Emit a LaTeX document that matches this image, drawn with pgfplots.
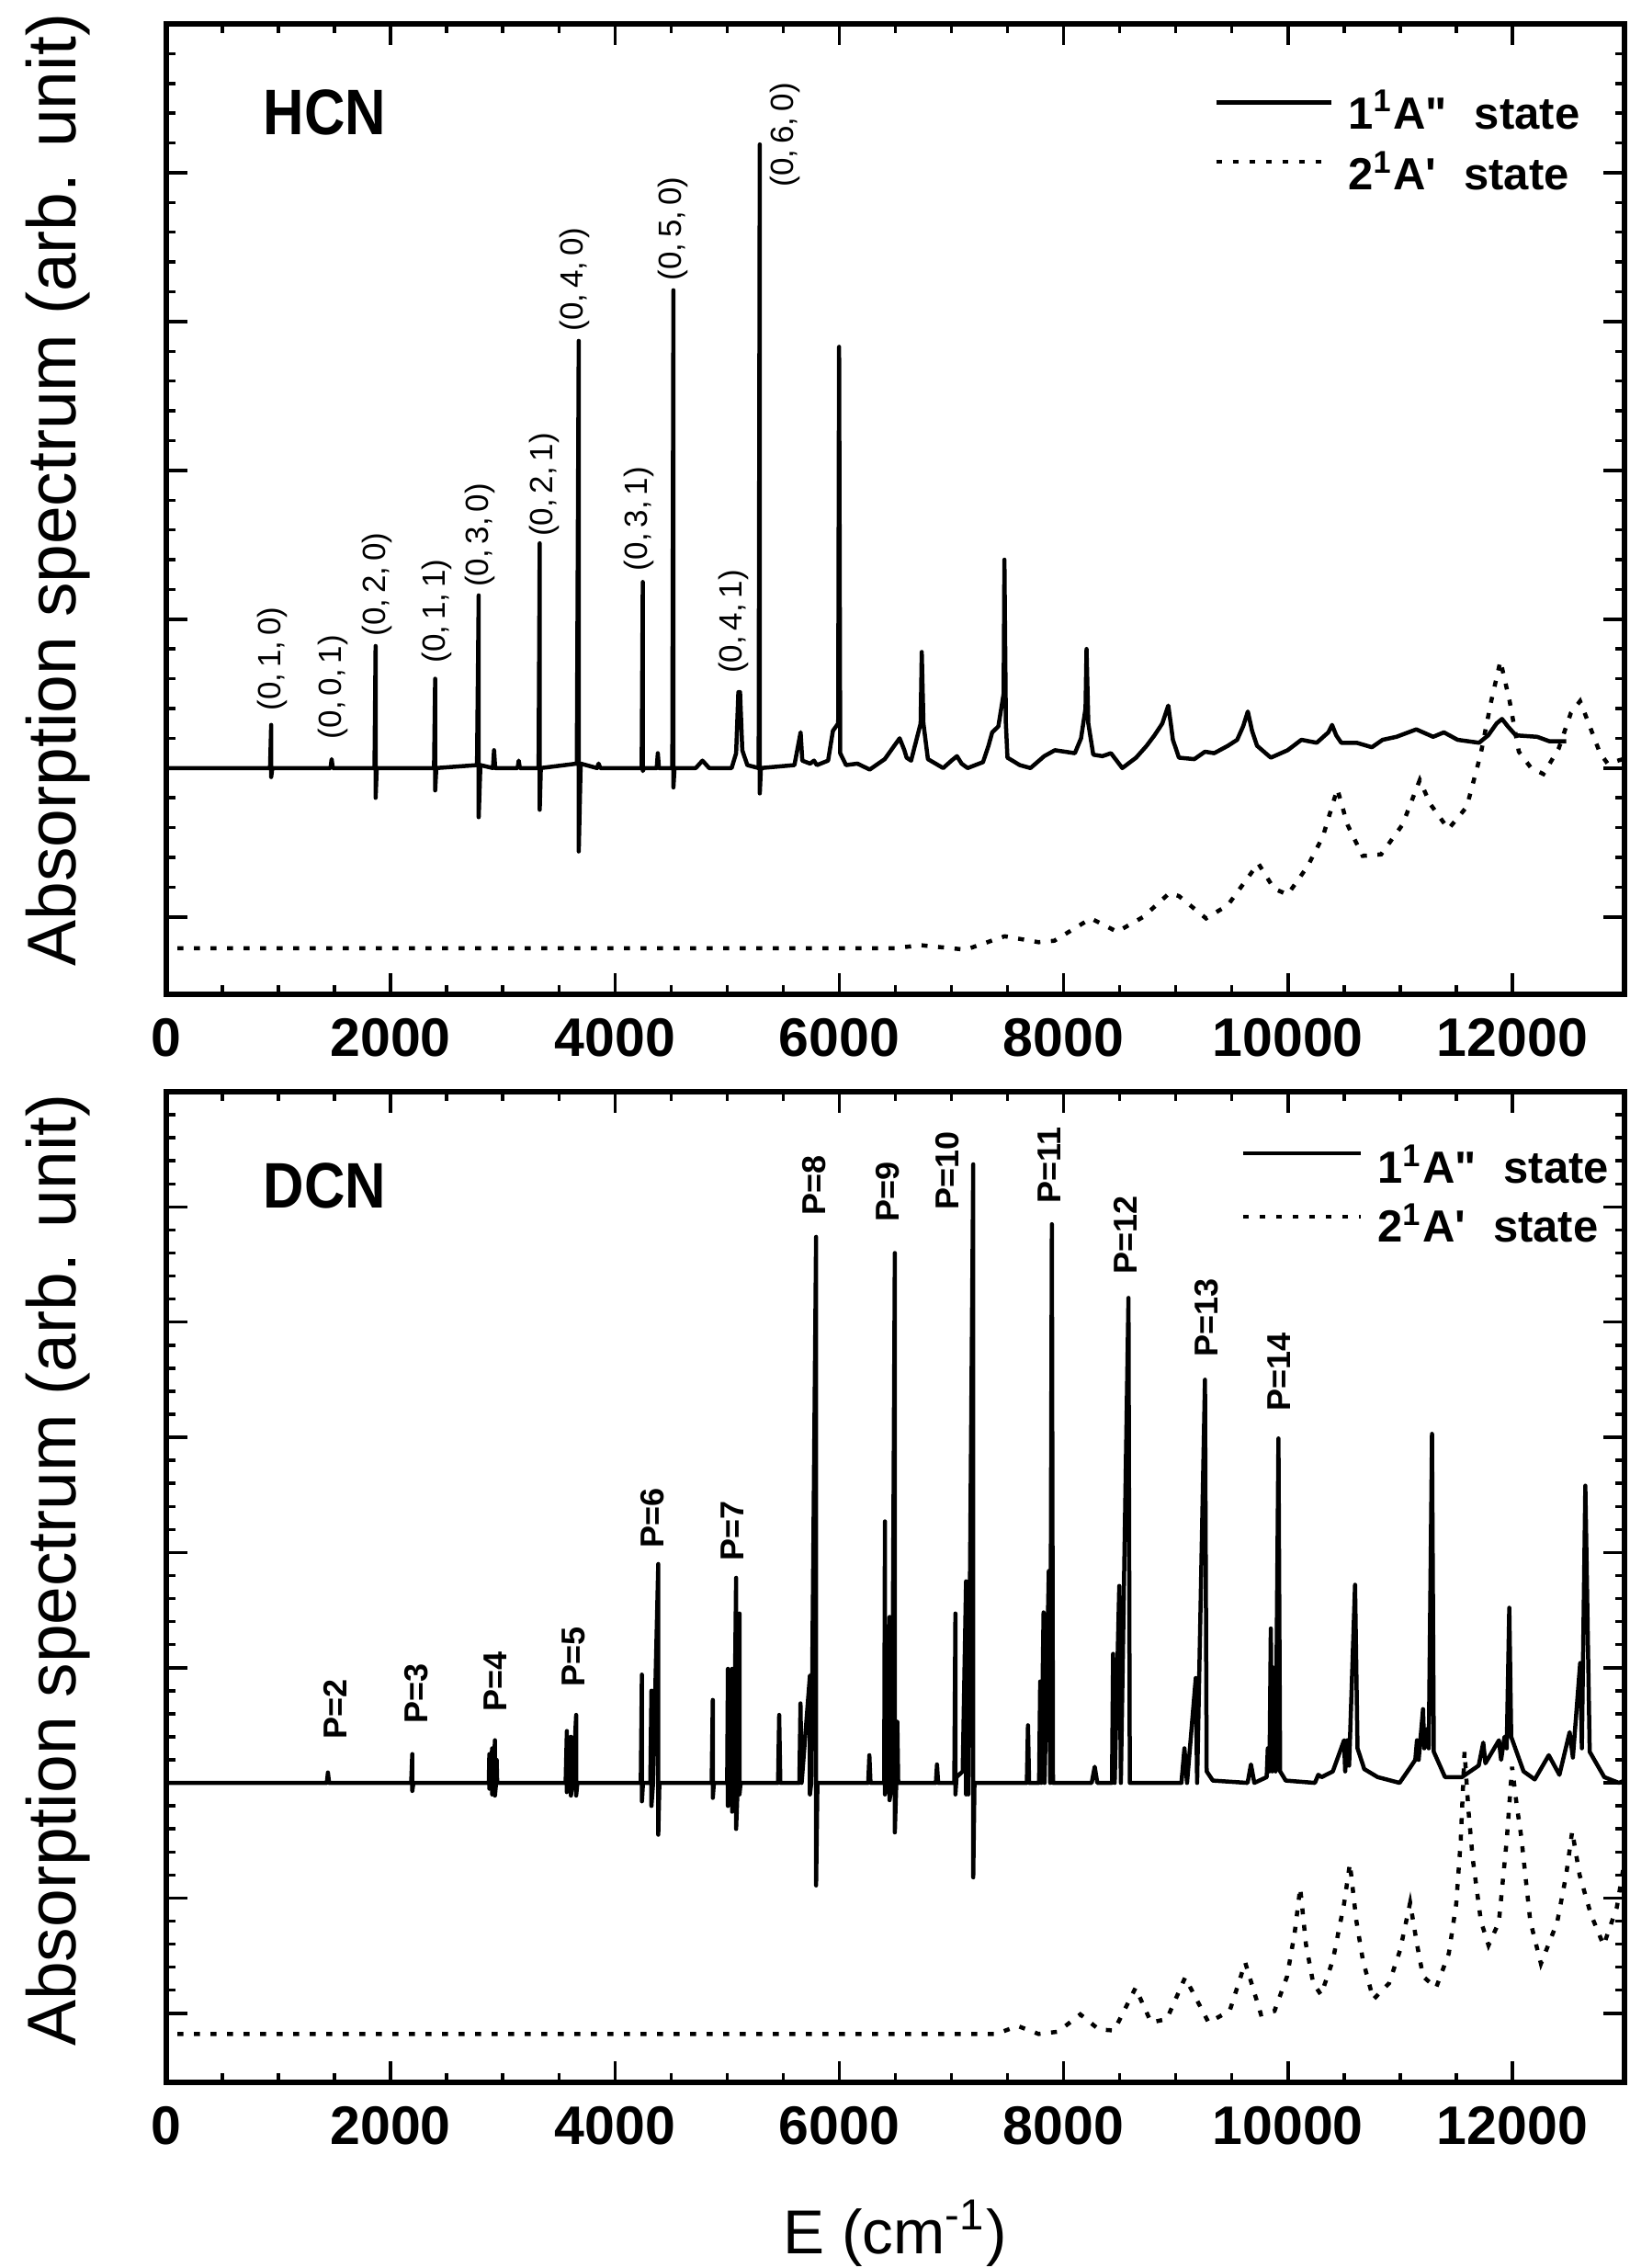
\documentclass[border=0pt]{standalone}
\usepackage{fontspec}
\setmainfont{Liberation Sans}
\usepackage{graphicx}
\usepackage{pgfplots}
\pgfplotsset{compat=1.18}

\pgfplotsset{
  specaxis/.style={
    scale only axis, width=317.4pt,
    xmin=0, xmax=13000,
    xtick={0,2000,...,12000}, minor x tick num=3,
    scaled x ticks=false,
    yticklabels={}, minor y tick num=4,
    tick align=inside,
    major tick length=4.6pt, minor tick length=2pt,
    axis line style={line width=1.3pt},
    tick style={black, line width=0.7pt},
    /pgf/number format/assume math mode=true,
    /pgf/number format/1000 sep={},
    xticklabel style={font=\bfseries\fontsize{11.8}{13}\selectfont, yshift=-1.8pt},
    clip mode=individual,
  },
}
\tikzset{
  solidspec/.style={black, line width=0.9pt, line join=round},
  dotspec/.style={black, line width=0.9pt, dash pattern=on 1.3pt off 2.3pt},
  plab/.style={rotate=90, anchor=west, inner sep=0pt, font=\fontsize{7}{8}\selectfont},
  pblab/.style={rotate=90, anchor=west, inner sep=0pt, font=\bfseries\fontsize{7.2}{8}\selectfont},
  mollab/.style={anchor=base west, inner sep=0pt, font=\bfseries\fontsize{14}{16}\selectfont},
  leglab/.style={anchor=base west, inner sep=0pt, font=\bfseries\fontsize{9.8}{12}\selectfont},
}

\begin{document}
\begin{tikzpicture}
\useasboundingbox (0,0) rectangle (354.6pt,493.6pt);

% ---------------- HCN ----------------
\begin{axis}[specaxis, at={(36.2pt,277.2pt)}, anchor=south west,
  height=211.2pt, ymin=-1.52, ymax=5.0, ytick={-1,0,...,5}]
\addplot[solidspec] coordinates {
(0,0) (925,0) (935,0.29) (935,-0.06) (945,0)
(1464,0) (1474,0.06) (1484,0)
(1856,0) (1866,0.82) (1866,-0.20) (1876,0)
(2387,0) (2397,0.60) (2397,-0.15) (2407,0)
(2770,0.02) (2785,1.16) (2785,-0.33) (2800,0.02)
(2912,0) (2922,0.12) (2932,0)
(3132,0) (3142,0.05) (3152,0)
(3319,0) (3329,1.51) (3329,-0.28) (3339,0)
(3660,0.03) (3677,2.87) (3677,-0.56) (3694,0.03)
(3840,0) (3854,0.03) (3870,0)
(4238,0) (4248,1.25) (4248,-0.02) (4258,0)
(4372,0) (4382,0.10) (4392,0)
(4511,0) (4521,3.21) (4521,-0.13) (4531,0)
(4720,0) (4780,0.05) (4840,0)
(5040,0) (5080,0.10) (5100,0.51) (5115,0.51) (5135,0.12) (5180,0.02)
(5281,0) (5291,4.19) (5291,-0.17) (5301,0)
(5600,0.02) (5655,0.24) (5670,0.05) (5740,0.03) (5774,0.05) (5800,0.02)
(5900,0.05) (5943,0.25) (5990,0.30) (5998,2.83) (6008,0.10) (6060,0.02)
(6161,0.03) (6271,-0.01) (6405,0.06) (6490,0.15) (6538,0.20) (6580,0.12) (6600,0.07) (6640,0.05)
(6725,0.30) (6735,0.78) (6750,0.30) (6790,0.06) (6926,0) (7000,0.05) (7049,0.08) (7090,0.03) (7144,0)
(7281,0.04) (7330,0.15) (7363,0.24) (7418,0.28) (7465,0.50) (7472,1.40) (7485,0.30) (7499,0.07)
(7609,0.02) (7704,0) (7827,0.08) (7922,0.12) (8100,0.10) (8155,0.20) (8195,0.40)
(8204,0.80) (8220,0.30) (8264,0.09) (8346,0.08) (8422,0.10) (8523,0) (8646,0.07)
(8740,0.15) (8810,0.22) (8880,0.30) (8933,0.42) (8955,0.30) (8974,0.19) (9028,0.07) (9165,0.06) (9260,0.11) (9342,0.10)
(9465,0.15) (9547,0.19) (9600,0.28) (9642,0.38) (9680,0.25) (9724,0.15) (9847,0.07) (9997,0.12) (10120,0.19)
(10256,0.17) (10360,0.24) (10393,0.29) (10430,0.22) (10475,0.17) (10612,0.17) (10748,0.14) (10844,0.19)
(10967,0.21) (11144,0.26) (11294,0.21) (11390,0.24) (11512,0.19) (11703,0.17)
(11785,0.22) (11860,0.30) (11908,0.33) (11960,0.28) (12031,0.22) (12222,0.21) (12331,0.18) (12480,0.18)
};
\addplot[dotspec] coordinates {
(100,-1.21) (6500,-1.21) (6724,-1.19) (7126,-1.22) (7474,-1.13) (7777,-1.17)
(7917,-1.16) (8243,-1.01) (8477,-1.10) (8710,-1.00) (8943,-0.84) (9028,-0.86)
(9270,-1.01) (9465,-0.92) (9735,-0.64) (9875,-0.81) (9997,-0.85) (10175,-0.66)
(10311,-0.46) (10440,-0.14) (10530,-0.38) (10666,-0.59) (10830,-0.58) (11021,-0.38)
(11175,-0.08) (11267,-0.24) (11430,-0.41) (11594,-0.26) (11717,0.09) (11812,0.45)
(11894,0.72) (11976,0.45) (12058,0.11) (12168,0.0) (12277,-0.04) (12413,0.13)
(12522,0.37) (12604,0.45) (12686,0.29) (12782,0.10) (12850,0.03) (12987,0.06)
};
\node[plab] at (axis cs:948,0.38) {(0,\,1,\,0)};
\node[plab] at (axis cs:1490,0.19) {(0,\,0,\,1)};
\node[plab] at (axis cs:1876,0.88) {(0,\,2,\,0)};
\node[plab] at (axis cs:2414,0.70) {(0,\,1,\,1)};
\node[plab] at (axis cs:2797,1.21) {(0,\,3,\,0)};
\node[plab] at (axis cs:3370,1.55) {(0,\,2,\,1)};
\node[plab] at (axis cs:3643,2.93) {(0,\,4,\,0)};
\node[plab] at (axis cs:4216,1.32) {(0,\,3,\,1)};
\node[plab] at (axis cs:4521,3.27) {(0,\,5,\,0)};
\node[plab] at (axis cs:5061,0.63) {(0,\,4,\,1)};
\node[plab] at (axis cs:5520,3.90) {(0,\,6,\,0)};
\node[mollab] at (axis description cs:0.066,0.886) {\scalebox{0.88}[1]{HCN}};
\draw[solidspec] (axis description cs:0.720,0.919) -- (axis description cs:0.799,0.919);
\draw[dotspec] (axis description cs:0.720,0.858) -- (axis description cs:0.799,0.858);
\node[leglab] at (axis description cs:0.810,0.892) {1\textsuperscript{1}A\textquotedbl\hspace{6pt}state};
\node[leglab] at (axis description cs:0.810,0.829) {2\textsuperscript{1}A\textquotesingle\hspace{6pt}state};
\end{axis}

% ---------------- DCN ----------------
\begin{axis}[specaxis, at={(36.2pt,40.4pt)}, anchor=south west,
  height=215.6pt, ymin=-2.6, ymax=6.0, ytick={-2,-1,...,6}]
\addplot[solidspec] coordinates {
(0,0) (1431,0) (1441,0.09) (1451,0)
(2183,0) (2193,0.25) (2193,-0.07) (2203,0)
(2875,0) (2880,0.25) (2880,-0.05) (2890,0) (2905,0.30) (2905,-0.10) (2915,0)
(2930,0.37) (2930,-0.11) (2940,0) (2945,0.20) (2950,0)
(3560,0) (3571,0.45) (3571,-0.08) (3585,0) (3607,0.40) (3607,-0.11) (3625,0)
(3654,0.59) (3654,-0.11) (3665,0)
(4230,0) (4240,0.94) (4240,-0.16) (4250,0) (4315,0) (4325,0.80) (4325,-0.20)
(4340,0) (4386,1.90) (4386,-0.45) (4396,0)
(4862,0) (4872,0.72) (4872,-0.13) (4882,0) (5000,0) (5007,0.99) (5007,-0.20)
(5025,0) (5044,0.99) (5044,-0.25) (5060,0) (5080,1.78) (5080,-0.40) (5095,0)
(5110,1.47) (5110,-0.10) (5120,0)
(5454,0) (5464,0.59) (5474,0)
(5644,0) (5654,0.69) (5664,0) (5738,0.93) (5738,-0.10) (5750,0) (5793,4.74)
(5793,-0.89) (5805,0)
(6258,0) (6268,0.24) (6278,0)
(6400,0) (6407,2.27) (6407,-0.10) (6420,0) (6448,1.44) (6448,-0.15) (6470,0)
(6495,4.60) (6495,-0.43) (6508,0) (6517,0.53) (6525,0)
(6861,0) (6871,0.16) (6881,0)
(7025,0) (7035,1.47) (7035,-0.10) (7045,0.05) (7100,0.10) (7130,1.75) (7130,-0.10)
(7150,1.28) (7150,-0.10) (7194,5.37) (7194,-0.82) (7205,0)
(7672,0) (7682,0.50) (7692,0)
(7781,0) (7791,0.88) (7800,0) (7821,1.48) (7830,0) (7868,1.84) (7880,0)
(7895,4.85) (7905,0)
(8250,0) (8277,0.14) (8300,0)
(8431,0) (8441,1.12) (8455,0) (8496,1.71) (8510,0) (8578,4.21) (8590,0)
(9050,0) (9077,0.30) (9100,0) (9178,0.91) (9190,0) (9260,3.50) (9275,0.10) (9330,0.02)
(9640,0) (9670,0.16) (9700,0)
(9810,0.05) (9820,0.30) (9835,0.10) (9847,1.34) (9860,0.10) (9874,1.00) (9890,0.10)
(9915,2.99) (9930,0.10) (9980,0.02)
(10240,0) (10270,0.07) (10300,0.05) (10400,0.10) (10500,0.37) (10510,0.10)
(10528,0.37) (10545,0.15) (10598,1.72) (10620,0.30) (10680,0.12) (10800,0.05)
(10995,0) (11080,0.12) (11135,0.20) (11150,0.37) (11165,0.20) (11204,0.64)
(11215,0.30) (11240,0.47) (11255,0.30) (11284,3.03) (11300,0.27) (11400,0.05)
(11550,0.05) (11700,0.15) (11741,0.35) (11760,0.17) (11881,0.37) (11900,0.20)
(11930,0.40) (11950,0.30) (11973,1.52) (11990,0.40) (12100,0.10) (12200,0.03)
(12325,0.24) (12420,0.07) (12511,0.44) (12540,0.22) (12605,1.04) (12620,0.30)
(12651,2.58) (12690,0.27) (12820,0.05) (12950,0.0) (13000,0.02)
};
\addplot[dotspec] coordinates {
(100,-2.18) (7400,-2.18) (7590,-2.11) (7777,-2.18) (7950,-2.16) (8149,-2.01)
(8313,-2.14) (8450,-2.15) (8641,-1.78) (8780,-2.08) (8920,-2.05) (9083,-1.69)
(9292,-2.08) (9480,-1.98) (9619,-1.56) (9759,-2.01) (9880,-1.98) (9992,-1.68)
(10060,-1.30) (10109,-0.91) (10160,-1.40) (10225,-1.74) (10295,-1.84) (10400,-1.54)
(10500,-1.05) (10552,-0.70) (10610,-1.20) (10668,-1.54) (10761,-1.88) (10901,-1.74)
(11000,-1.45) (11089,-1.04) (11150,-1.40) (11204,-1.68) (11320,-1.78) (11434,-1.48)
(11500,-1.05) (11540,-0.50) (11574,0.27) (11610,-0.25) (11646,-0.65) (11720,-1.20)
(11788,-1.41) (11880,-1.21) (11950,-0.50) (11998,0.14) (12040,-0.20) (12080,-0.47)
(12160,-1.20) (12255,-1.57) (12400,-1.21) (12480,-0.80) (12534,-0.42) (12600,-0.80)
(12700,-1.14) (12814,-1.41) (12932,-1.08) (12990,-0.74)
};
\node[pblab] at (axis cs:1509,0.37) {P=2};
\node[pblab] at (axis cs:2228,0.51) {P=3};
\node[pblab] at (axis cs:2934,0.61) {P=4};
\node[pblab] at (axis cs:3628,0.83) {P=5};
\node[pblab] at (axis cs:4338,2.03) {P=6};
\node[pblab] at (axis cs:5044,1.92) {P=7};
\node[pblab] at (axis cs:5774,4.92) {P=8};
\node[pblab] at (axis cs:6435,4.86) {P=9};
\node[pblab] at (axis cs:6967,4.97) {P=10};
\node[pblab] at (axis cs:7876,5.02) {P=11};
\node[pblab] at (axis cs:8550,4.41) {P=12};
\node[pblab] at (axis cs:9274,3.69) {P=13};
\node[pblab] at (axis cs:9922,3.22) {P=14};
\node[mollab] at (axis description cs:0.066,0.883) {\scalebox{0.88}[1]{DCN}};
\draw[solidspec] (axis description cs:0.7385,0.938) -- (axis description cs:0.819,0.938);
\draw[dotspec] (axis description cs:0.7385,0.874) -- (axis description cs:0.819,0.874);
\node[leglab] at (axis description cs:0.830,0.9077) {1\textsuperscript{1}A\textquotedbl\hspace{6pt}state};
\node[leglab] at (axis description cs:0.830,0.848) {2\textsuperscript{1}A\textquotesingle\hspace{6pt}state};
\end{axis}

% axis titles
\node[rotate=90, anchor=base, inner sep=0pt, font=\fontsize{15}{17}\selectfont]
  at (16.6pt,387pt) {Absorption spectrum (arb. unit)};
\node[rotate=90, anchor=base, inner sep=0pt, font=\fontsize{15}{17}\selectfont]
  at (16.6pt,151.9pt) {Absorption spectrum (arb. unit)};
\node[anchor=base, inner sep=0pt, font=\fontsize{13.5}{15}\selectfont]
  at (194.8pt,3pt) {E (cm\textsuperscript{-1})};
\end{tikzpicture}
\end{document}
